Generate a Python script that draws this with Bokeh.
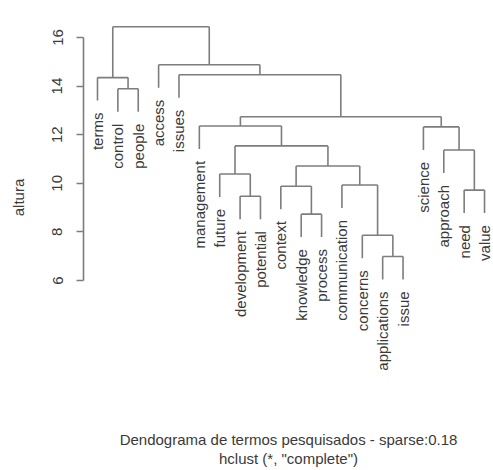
import numpy as np
from bokeh.plotting import figure
from bokeh.models import ColumnDataSource, Range1d, FixedTicker, Title
from bokeh.embed import file_html
from bokeh.resources import INLINE
from bokeh.core.properties import value

# ---- data ----
labels = ["terms", "control", "people", "access", "issues", "management",
          "future", "development", "potential", "context", "knowledge",
          "process", "communication", "concerns", "applications", "issue",
          "science", "approach", "need", "value"]
# R-style merge table: negative = leaf (1-based position), positive = earlier merge
merge_a = [-15, -14, -11, -8, -19, -10, -13, -7, 6, -18, 8, -17, -6, 13, -2, -1, -5, -4, 16]
merge_b = [-16, 1, -12, -9, -20, 3, 2, 4, 7, 5, 9, 10, 11, 12, -3, 15, 14, 17, 18]
heights = [6.99, 7.86, 8.73, 9.47, 9.72, 9.88, 9.93, 10.38, 10.71, 11.37,
           11.54, 12.32, 12.36, 12.74, 13.89, 14.35, 14.47, 14.88, 16.44]
y_ticks = [6, 8, 10, 12, 14, 16]
title_main = "Dendograma de termos pesquisados - sparse:0.18"
title_sub = 'hclust (*, "complete")'
y_label = "altura"

# ---- dendrogram geometry from the merge table ----
hang = 0.1 * (max(heights) - min(heights))
node_x = {}
x0, y0, x1, y1 = [], [], [], []
leaf_x, leaf_y, leaf_txt = [], [], []
for k, (a, b) in enumerate(zip(merge_a, merge_b), start=1):
    h = heights[k - 1]
    pts = []
    for c in (a, b):
        if c < 0:
            cx, cy = float(-c), h - hang
            leaf_x.append(cx); leaf_y.append(cy); leaf_txt.append(labels[-c - 1])
        else:
            cx, cy = node_x[c], heights[c - 1]
        pts.append((cx, cy))
    (xa, ya), (xb, yb) = pts
    x0 += [xa, xa, xb]; y0 += [ya, h, h]
    x1 += [xa, xb, xb]; y1 += [h, h, yb]
    node_x[k] = (xa + xb) / 2.0

seg = ColumnDataSource(dict(x0=x0, y0=y0, x1=x1, y1=y1))
lab = ColumnDataSource(dict(x=leaf_x, y=leaf_y, t=leaf_txt))

FONT = "Liberation Sans"
LINE = "#7d7d7d"
TXT = "#3a3a3a"

px_x = 20.37
px_y = 24.3
xs = 1 - 14 / px_x
p = figure(width=493, height=470, output_backend="svg", toolbar_location=None,
           x_range=Range1d(xs, xs + 410 / px_x),
           y_range=Range1d(6 - 114 / px_y, 6 + 280 / px_y),
           x_axis_location=None, min_border_left=83, min_border_right=0,
           min_border_top=0, min_border_bottom=76)
p.grid.visible = False
p.outline_line_color = None
p.background_fill_color = "white"
p.border_fill_color = "white"

p.segment(x0="x0", y0="y0", x1="x1", y1="y1", source=seg,
          line_color=LINE, line_width=1.6)
p.text(x="x", y="y", text="t", source=lab, angle=np.pi / 2,
       text_align="right", text_baseline="middle", y_offset=12,
       text_font=value(FONT), text_font_size="15px", text_color=TXT)

ax = p.yaxis[0]
ax.ticker = FixedTicker(ticks=y_ticks)
ax.bounds = (6, 16)
ax.axis_label = y_label
ax.axis_label_text_font = FONT
ax.axis_label_text_font_style = "normal"
ax.axis_label_text_font_size = "15px"
ax.axis_label_text_color = TXT
ax.axis_label_standoff = 23
ax.major_label_orientation = "vertical"
ax.major_label_text_font = FONT
ax.major_label_text_font_size = "15px"
ax.major_label_text_color = TXT
ax.major_label_standoff = 14
ax.major_tick_out = 7
ax.major_tick_in = 0
ax.minor_tick_line_color = None
ax.axis_line_color = LINE
ax.major_tick_line_color = LINE
ax.axis_line_width = 1.6
ax.major_tick_line_width = 1.6

# bottom titles: a blank spacer title, then main and sub titles (centred)
p.add_layout(Title(text=" ", text_font_size="15px", standoff=15), "below")
for txt in (title_main, title_sub):
    p.add_layout(Title(text=txt, align="center", text_font=FONT,
                       text_font_size="15px", text_font_style="normal",
                       text_color=TXT, standoff=0, text_line_height=0.4), "below")

open("out.html", "w").write(file_html(p, INLINE))
